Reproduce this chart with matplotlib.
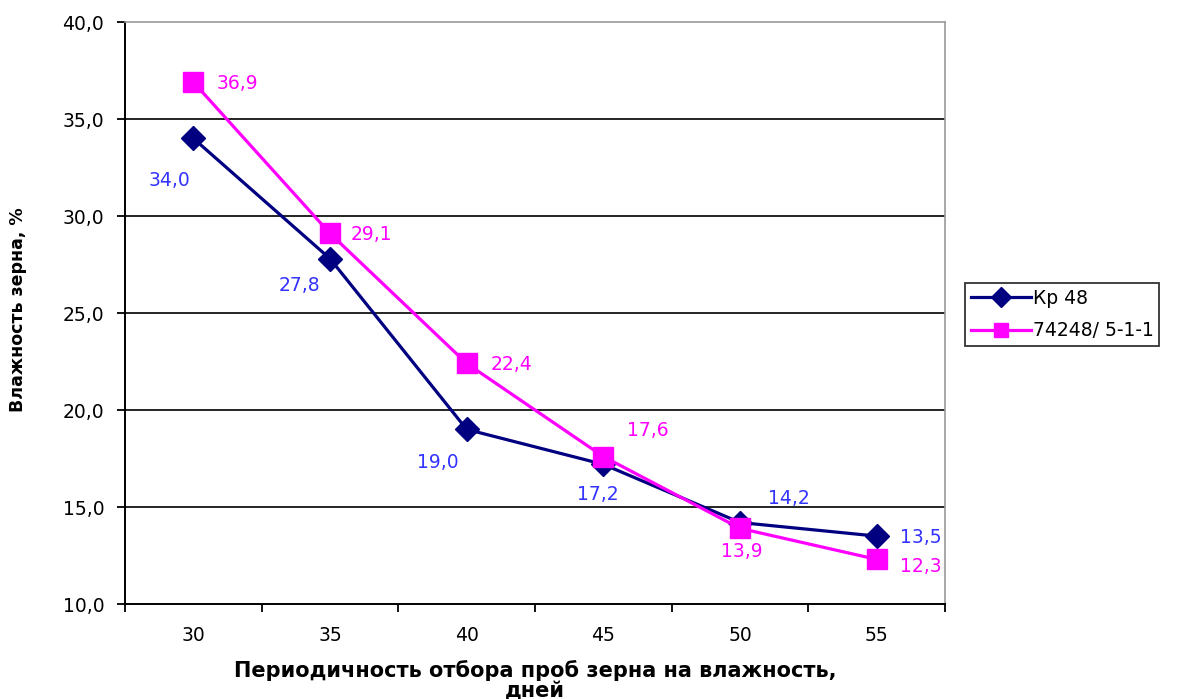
import matplotlib
matplotlib.use("Agg")
import matplotlib.pyplot as plt

plt.rcParams['font.family'] = ['DejaVu Sans']

days = ["30", "35", "40", "45", "50", "55"]
kp48 = [34.0, 27.8, 19.0, 17.2, 14.2, 13.5]
line74248 = [36.9, 29.1, 22.4, 17.6, 13.9, 12.3]
series_names = ["Кр 48", "74248/ 5-1-1"]
y_ticks = [10, 15, 20, 25, 30, 35, 40]

# label offsets in points (dx, dy), text centred on the offset
kp_offsets = [(-17, -30), (-22, -19), (-21, -24), (-4, -22), (35, 17), (32, -1)]
l_offsets = [(32, -1), (30, -1), (32, -1), (32, 19), (1, -17), (32, -5)]

FS = 13.5

fig = plt.figure(figsize=(11.82, 6.99), dpi=100)
ax = fig.add_axes([0.1058, 0.1359, 0.6937, 0.8326])

x = list(range(len(days)))
ax.plot(x, kp48, color='#000080', lw=2.3, marker='D', ms=12,
        label=series_names[0], zorder=3)
ax.plot(x, line74248, color='#FF00FF', lw=2.3, marker='s', ms=14,
        label=series_names[1], zorder=3)


def fmt(v):
    return f"{v:.1f}".replace('.', ',')


for vals, offs, col in ((kp48, kp_offsets, '#3333FF'),
                        (line74248, l_offsets, '#FF00FF')):
    for i, v in enumerate(vals):
        dx, dy = offs[i]
        ax.annotate(fmt(v), (i, v), xytext=(dx, dy), textcoords='offset points',
                    color=col, fontsize=FS, ha='center', va='center', zorder=4)

ax.set_xlim(-0.5, len(days) - 0.5)
ax.set_ylim(10, 40)
ax.set_yticks(y_ticks)
ax.set_yticklabels([fmt(v) for v in y_ticks], fontsize=FS)
ax.set_xticks(x)
ax.set_xticklabels(days, fontsize=FS)
ax.set_xticks([i - 0.5 for i in range(len(days) + 1)], minor=True)
ax.tick_params(axis='x', which='major', length=0, pad=16)
ax.tick_params(axis='x', which='minor', length=6, width=1.3, direction='out')
ax.tick_params(axis='y', length=6, width=1.3, direction='out', pad=9)

for yv in y_ticks[1:-1]:
    ax.axhline(yv, color='black', lw=1.2, zorder=1)

ax.spines['left'].set_linewidth(1.4)
ax.spines['bottom'].set_linewidth(1.4)
for side in ('top', 'right'):
    ax.spines[side].set_color('#999999')
    ax.spines[side].set_linewidth(1.2)

ax.set_xlabel("Периодичность отбора проб зерна на влажность,\nдней",
              fontsize=15, fontweight='bold', labelpad=11, linespacing=0.95)
ax.set_ylabel("Влажность зерна, %", fontsize=12.5, fontweight='bold', va='center')
ax.yaxis.set_label_coords(-0.130, 0.505)

leg = ax.legend(loc='upper left', bbox_to_anchor=(1.0244, 0.5515),
                frameon=True, fancybox=False, edgecolor='black',
                fontsize=FS, handlelength=3.2, handletextpad=0.1,
                borderpad=0.3, labelspacing=0.72, borderaxespad=0)
leg.get_frame().set_linewidth(1.3)
for h in leg.legend_handles:
    h.set_markersize(10)

fig.savefig("out.png", dpi=100)
